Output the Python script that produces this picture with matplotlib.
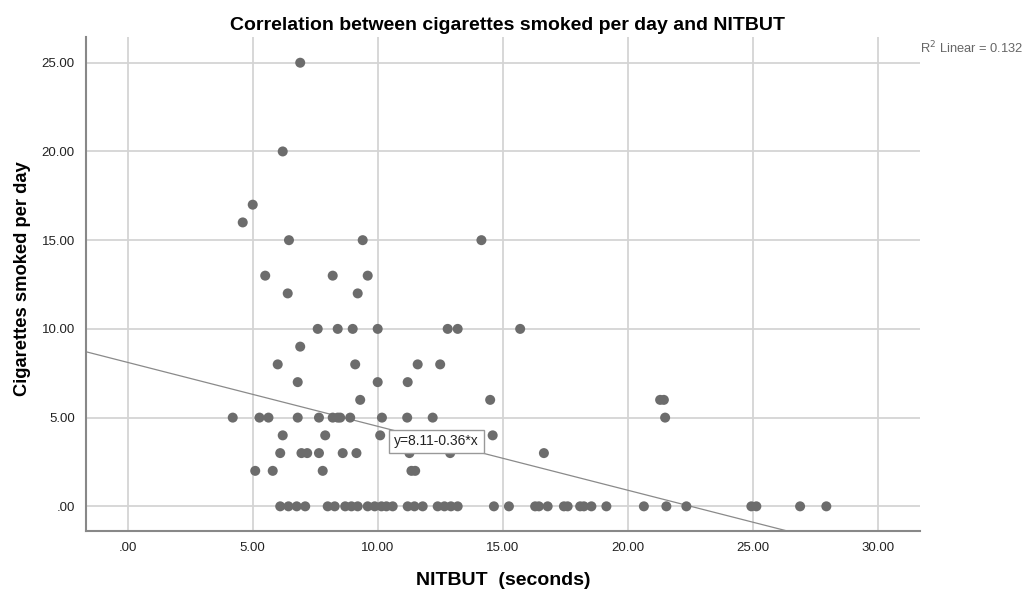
import numpy as np
import matplotlib.pyplot as plt

plt.rcParams['font.family'] = ['Liberation Sans', 'DejaVu Sans']

# NITBUT (seconds) and cigarettes per day, grouped by cigarette count
x25 = [6.9]
x20 = [6.2]
x17 = [5.0]
x16 = [4.6]
x15 = [6.45, 9.4, 14.15]
x13 = [5.5, 8.2, 9.6]
x12 = [6.4, 9.2]
x10 = [7.6, 8.4, 9.0, 10.0, 12.8, 13.2, 15.7]
x9 = [6.9]
x8 = [6.0, 9.1, 11.6, 12.5]
x7 = [6.8, 10.0, 11.2]
x6 = [9.3, 14.5, 21.3, 21.45]
x5 = [4.2, 5.27, 5.63, 6.8, 7.65, 8.2, 8.4, 8.5, 8.9, 10.17, 11.18, 12.2, 21.5]
x4 = [6.2, 7.9, 10.1, 14.6]
x3 = [6.1, 6.95, 7.18, 7.65, 8.6, 9.15, 11.27, 12.9, 16.65]
x2 = [5.1, 5.8, 7.8, 11.35, 11.5]
x0 = [6.1, 6.43, 6.76, 7.1, 8.0, 8.28, 8.7, 8.95, 9.2, 9.6, 9.88, 10.15,
      10.35, 10.6, 11.2, 11.47, 11.8, 12.4, 12.67, 12.93, 13.2, 14.65,
      15.25, 16.3, 16.45, 16.8, 17.45, 17.6, 18.1, 18.25, 18.55, 19.15,
      20.65, 21.55, 22.35, 24.95, 25.15, 26.9, 27.95]

groups = {25: x25, 20: x20, 17: x17, 16: x16, 15: x15, 13: x13, 12: x12,
          10: x10, 9: x9, 8: x8, 7: x7, 6: x6, 5: x5, 4: x4, 3: x3, 2: x2,
          0: x0}

intercept = 8.11
slope = -0.36
r2 = 0.132

xticks = [0, 5, 10, 15, 20, 25, 30]
yticks = [0, 5, 10, 15, 20, 25]

xs = np.concatenate([np.array(v, dtype=float) for v in groups.values()])
ys = np.concatenate([np.full(len(v), k, dtype=float) for k, v in groups.items()])

fig = plt.figure(figsize=(10.24, 5.9), dpi=100)
ax = fig.add_axes([0.084, 0.1, 0.8145, 0.837])

xmin, xmax = -1.67, 31.7
ymin, ymax = -1.39, 26.44
ax.set_xlim(xmin, xmax)
ax.set_ylim(ymin, ymax)

ax.set_xticks(xticks)
ax.set_yticks(yticks)
ax.set_xticklabels(['.00' if t == 0 else '%.2f' % t for t in xticks], fontsize=9.5)
ax.set_yticklabels(['.00' if t == 0 else '%.2f' % t for t in yticks], fontsize=9.5)
ax.tick_params(length=0, pad=8, colors='#222222')

ax.grid(True, color='#d4d4d4', linewidth=1.3)
ax.set_axisbelow(True)
for s in ['top', 'right']:
    ax.spines[s].set_visible(False)
for s in ['left', 'bottom']:
    ax.spines[s].set_color('#888888')
    ax.spines[s].set_linewidth(1.5)

# fit line, clipped where it leaves the bottom of the axes
xl = np.linspace(xmin, xmax, 200)
ax.plot(xl, intercept + slope * xl, color='#8a8a8a', linewidth=0.9, zorder=2)

ax.scatter(xs, ys, s=52, color='#6c6c6c', edgecolors='none', zorder=3)

ax.text(12.35, 3.66, 'y=%.2f-%.2f*x' % (intercept, -slope), fontsize=10,
        ha='center', va='center', color='#222222', zorder=4,
        bbox=dict(boxstyle='square,pad=0.35', fc='white', ec='#999999', lw=1))

fig.text(0.8985, 0.919, r'R$^2$ Linear = %.3f' % r2, fontsize=9.3,
         color='#666666', ha='left', va='center')

ax.set_title('Correlation between cigarettes smoked per day and NITBUT',
             fontsize=14, fontweight='bold', pad=5, x=0.505)
ax.set_xlabel('NITBUT  (seconds)', fontsize=14, fontweight='bold', labelpad=13)
ax.set_ylabel('Cigarettes smoked per day', fontsize=13.2, fontweight='bold')
ax.yaxis.set_label_coords(-0.066, 0.512)

fig.savefig('out.png', dpi=100)
